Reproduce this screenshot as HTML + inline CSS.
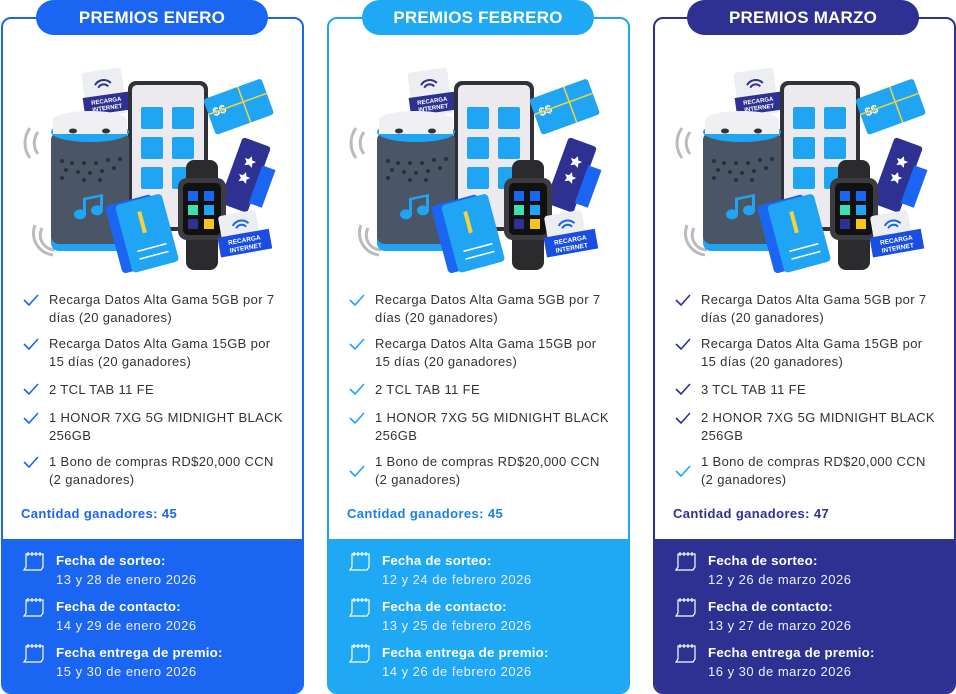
<!DOCTYPE html>
<html><head><meta charset="utf-8">
<style>
*{margin:0;padding:0;box-sizing:border-box}
body{width:956px;height:694px;background:#fff;font-family:"Liberation Sans",sans-serif;position:relative;overflow:hidden}
.card{position:absolute;top:17px;width:303px;height:677px;border:2px solid;border-radius:10px;overflow:hidden;background:#fff}
.pill{position:absolute;top:0;height:35px;width:232px;border-radius:18px;color:#fff;font-weight:bold;font-size:17px;text-align:center;line-height:36px;z-index:2;letter-spacing:.2px}
.ill{position:absolute;left:-3px;top:24px}
.li{position:absolute;left:46px;font-size:13px;letter-spacing:.35px;line-height:18px;color:#333;width:237px}
.ck{position:absolute;left:20px;width:16px;height:12px}
.cant{position:absolute;left:18px;top:487px;font-size:13px;font-weight:bold;letter-spacing:.4px}
.bot{position:absolute;left:0;top:520px;width:100%;height:160px;color:#fff}
.bot .t{position:absolute;left:53px;font-size:13.3px;font-weight:bold;letter-spacing:.2px}
.bot .d{position:absolute;left:53px;font-size:13px;color:#eef;letter-spacing:.5px}
.bot svg{position:absolute;left:20px}
</style></head><body>

<div class="card" style="left:1px;border-color:#1a66f2">
<div class="ill"><svg width="300" height="260" viewBox="0 0 300 260">
<g transform="translate(0,-43)">
<g transform="rotate(-8 104 92)"><rect x="84" y="70" width="40" height="46" rx="3" fill="#eceef2"/><rect x="82" y="95" width="46" height="18" fill="#2e3192"/><text x="105" y="103" font-size="6" fill="#fff" text-anchor="middle" font-weight="bold">RECARGA</text><text x="105" y="110" font-size="6" fill="#fff" text-anchor="middle" font-weight="bold">INTERNET</text><path d="M96 84a10 10 0 0 1 16 0M99 87a6 6 0 0 1 10 0" stroke="#2e3192" stroke-width="2" fill="none"/></g>
<rect x="128" y="81" width="80" height="150" rx="8" fill="#2f3238"/><rect x="132" y="85" width="72" height="142" rx="5" fill="#eceaef"/>
<g fill="#1fa5f3"><rect x="141" y="107" width="22" height="22" rx="2"/><rect x="172" y="107" width="22" height="22" rx="2"/><rect x="141" y="137" width="22" height="22" rx="2"/><rect x="172" y="137" width="22" height="22" rx="2"/><rect x="141" y="167" width="22" height="22" rx="2"/><rect x="172" y="167" width="22" height="22" rx="2"/></g>
<g transform="rotate(-20 238 108)"><rect x="208" y="88" width="62" height="38" rx="3" fill="#1fa5f3"/><text x="213" y="108" font-size="12" fill="#fff" font-weight="bold">$$</text><path d="M245 88v38M208 104h62" stroke="#f5d33b" stroke-width="1.5"/></g>
<g transform="rotate(20 245 175)"><rect x="230" y="140" width="30" height="70" rx="3" fill="#2e3192"/><path d="M245 155l2 4 4 0-3 3 1 4-4-2-4 2 1-4-3-3 4 0z M245 172l2 4 4 0-3 3 1 4-4-2-4 2 1-4-3-3 4 0z" fill="#fff"/><rect x="258" y="160" width="14" height="40" fill="#1a66f2"/></g>
<path d="M30 128a25 25 0 0 0 0 30M38 132a18 18 0 0 0 0 22M35 225a22 22 0 0 0 18 30M42 228a15 15 0 0 0 13 22" stroke="#bbb" stroke-width="3" fill="none"/>
<rect x="51" y="133" width="78" height="118" rx="8" fill="#1fa5f3"/><rect x="51" y="132" width="78" height="112" rx="8" fill="#4a5566"/>
<ellipse cx="90" cy="132" rx="39" ry="10" fill="#1fa5f3"/><rect x="53" y="120" width="74" height="14" fill="#f0f0f3"/><ellipse cx="90" cy="120" rx="37" ry="9" fill="#f0f0f3"/>
<ellipse cx="73" cy="131" rx="4" ry="2.5" fill="#333"/><ellipse cx="106" cy="131" rx="4" ry="2.5" fill="#333"/>
<g fill="#2b2f38"><circle cx="62" cy="161" r="2"/><circle cx="72" cy="163" r="2"/><circle cx="84" cy="163" r="2"/><circle cx="96" cy="163" r="2"/><circle cx="108" cy="160" r="2"/><circle cx="120" cy="159" r="2"/><circle cx="66" cy="170" r="2"/><circle cx="78" cy="172" r="2"/><circle cx="90" cy="173" r="2"/><circle cx="102" cy="171" r="2"/><circle cx="114" cy="168" r="2"/><circle cx="62" cy="178" r="2"/><circle cx="84" cy="180" r="2"/><circle cx="100" cy="180" r="2"/></g>
<path d="M86 198v16a6 5 0 1 1-3-4v-12l20-4v16a6 5 0 1 1-3-4v-9l-14 3" fill="#1fa5f3"/>
<g transform="rotate(-15 140 230)"><rect x="112" y="198" width="48" height="70" rx="4" fill="#1a66f2"/><rect x="122" y="200" width="48" height="70" rx="4" fill="#1fa5f3"/><path d="M132 250h30M132 258h30" stroke="#fff" stroke-width="1.5"/><rect x="142" y="212" width="4" height="22" fill="#f5d33b"/></g>
<rect x="186" y="160" width="32" height="110" rx="8" fill="#2b2b2e"/><rect x="178" y="178" width="48" height="62" rx="9" fill="#3c3c40"/><rect x="183" y="183" width="38" height="52" rx="5" fill="#111"/>
<g><rect x="188" y="191" width="10" height="10" fill="#1a66f2"/><rect x="204" y="191" width="10" height="10" fill="#1a66f2"/><rect x="188" y="205" width="10" height="10" fill="#3ee0b0"/><rect x="204" y="205" width="10" height="10" fill="#1fa5f3"/><rect x="188" y="219" width="10" height="10" fill="#2e3192"/><rect x="204" y="219" width="10" height="10" fill="#f5c518"/></g>
<g transform="rotate(-10 245 238)"><rect x="222" y="212" width="38" height="30" rx="3" fill="#eceef2"/><rect x="218" y="233" width="52" height="20" fill="#1a4ee0"/><text x="244" y="242" font-size="6.5" fill="#fff" text-anchor="middle" font-weight="bold">RECARGA</text><text x="244" y="250" font-size="6.5" fill="#fff" text-anchor="middle" font-weight="bold">INTERNET</text><path d="M235 224a10 10 0 0 1 16 0M238 227a6 6 0 0 1 10 0" stroke="#1a66f2" stroke-width="2" fill="none"/></g>
</g></svg></div>
<svg class="ck" style="top:275px" viewBox="0 0 16 12"><path d="M1 6l5 5 9-10" stroke="#1a66f2" stroke-width="1.6" fill="none"/></svg>
<div class="li" style="top:272px">Recarga Datos Alta Gama 5GB por 7 días (20 ganadores)</div>
<svg class="ck" style="top:319px" viewBox="0 0 16 12"><path d="M1 6l5 5 9-10" stroke="#1a66f2" stroke-width="1.6" fill="none"/></svg>
<div class="li" style="top:316px">Recarga Datos Alta Gama 15GB por 15 días (20 ganadores)</div>
<svg class="ck" style="top:364px" viewBox="0 0 16 12"><path d="M1 6l5 5 9-10" stroke="#1a66f2" stroke-width="1.6" fill="none"/></svg>
<div class="li" style="top:362px">2 TCL TAB 11 FE</div>
<svg class="ck" style="top:393px" viewBox="0 0 16 12"><path d="M1 6l5 5 9-10" stroke="#1a66f2" stroke-width="1.6" fill="none"/></svg>
<div class="li" style="top:390px">1 HONOR 7XG 5G MIDNIGHT BLACK 256GB</div>
<svg class="ck" style="top:437px" viewBox="0 0 16 12"><path d="M1 6l5 5 9-10" stroke="#1a66f2" stroke-width="1.6" fill="none"/></svg>
<div class="li" style="top:434px">1 Bono de compras RD$20,000 CCN (2 ganadores)</div>
<div class="cant" style="color:#1a66f2">Cantidad ganadores: 45</div>
<div class="bot" style="background:#1a66f2">
<svg style="top:12px" width="22" height="20" viewBox="0 0 22 20"><path d="M3 3h17v13l-2 3H1l2-3z M5 1v4M9 1v4M13 1v4M17 1v4" stroke="#fff" stroke-width="1.2" fill="none"/></svg>
<div class="t" style="top:14px">Fecha de sorteo:</div><div class="d" style="top:33px">13 y 28 de enero 2026</div>
<svg style="top:58px" width="22" height="20" viewBox="0 0 22 20"><path d="M3 3h17v13l-2 3H1l2-3z M5 1v4M9 1v4M13 1v4M17 1v4" stroke="#fff" stroke-width="1.2" fill="none"/></svg>
<div class="t" style="top:60px">Fecha de contacto:</div><div class="d" style="top:79px">14 y 29 de enero 2026</div>
<svg style="top:104px" width="22" height="20" viewBox="0 0 22 20"><path d="M3 3h17v13l-2 3H1l2-3z M5 1v4M9 1v4M13 1v4M17 1v4" stroke="#fff" stroke-width="1.2" fill="none"/></svg>
<div class="t" style="top:106px">Fecha entrega de premio:</div><div class="d" style="top:125px">15 y 30 de enero 2026</div>
</div></div>
<div class="pill" style="left:36px;background:#1a66f2">PREMIOS ENERO</div>

<div class="card" style="left:327px;border-color:#1fa5f3">
<div class="ill"><svg width="300" height="260" viewBox="0 0 300 260">
<g transform="translate(0,-43)">
<g transform="rotate(-8 104 92)"><rect x="84" y="70" width="40" height="46" rx="3" fill="#eceef2"/><rect x="82" y="95" width="46" height="18" fill="#2e3192"/><text x="105" y="103" font-size="6" fill="#fff" text-anchor="middle" font-weight="bold">RECARGA</text><text x="105" y="110" font-size="6" fill="#fff" text-anchor="middle" font-weight="bold">INTERNET</text><path d="M96 84a10 10 0 0 1 16 0M99 87a6 6 0 0 1 10 0" stroke="#2e3192" stroke-width="2" fill="none"/></g>
<rect x="128" y="81" width="80" height="150" rx="8" fill="#2f3238"/><rect x="132" y="85" width="72" height="142" rx="5" fill="#eceaef"/>
<g fill="#1fa5f3"><rect x="141" y="107" width="22" height="22" rx="2"/><rect x="172" y="107" width="22" height="22" rx="2"/><rect x="141" y="137" width="22" height="22" rx="2"/><rect x="172" y="137" width="22" height="22" rx="2"/><rect x="141" y="167" width="22" height="22" rx="2"/><rect x="172" y="167" width="22" height="22" rx="2"/></g>
<g transform="rotate(-20 238 108)"><rect x="208" y="88" width="62" height="38" rx="3" fill="#1fa5f3"/><text x="213" y="108" font-size="12" fill="#fff" font-weight="bold">$$</text><path d="M245 88v38M208 104h62" stroke="#f5d33b" stroke-width="1.5"/></g>
<g transform="rotate(20 245 175)"><rect x="230" y="140" width="30" height="70" rx="3" fill="#2e3192"/><path d="M245 155l2 4 4 0-3 3 1 4-4-2-4 2 1-4-3-3 4 0z M245 172l2 4 4 0-3 3 1 4-4-2-4 2 1-4-3-3 4 0z" fill="#fff"/><rect x="258" y="160" width="14" height="40" fill="#1a66f2"/></g>
<path d="M30 128a25 25 0 0 0 0 30M38 132a18 18 0 0 0 0 22M35 225a22 22 0 0 0 18 30M42 228a15 15 0 0 0 13 22" stroke="#bbb" stroke-width="3" fill="none"/>
<rect x="51" y="133" width="78" height="118" rx="8" fill="#1fa5f3"/><rect x="51" y="132" width="78" height="112" rx="8" fill="#4a5566"/>
<ellipse cx="90" cy="132" rx="39" ry="10" fill="#1fa5f3"/><rect x="53" y="120" width="74" height="14" fill="#f0f0f3"/><ellipse cx="90" cy="120" rx="37" ry="9" fill="#f0f0f3"/>
<ellipse cx="73" cy="131" rx="4" ry="2.5" fill="#333"/><ellipse cx="106" cy="131" rx="4" ry="2.5" fill="#333"/>
<g fill="#2b2f38"><circle cx="62" cy="161" r="2"/><circle cx="72" cy="163" r="2"/><circle cx="84" cy="163" r="2"/><circle cx="96" cy="163" r="2"/><circle cx="108" cy="160" r="2"/><circle cx="120" cy="159" r="2"/><circle cx="66" cy="170" r="2"/><circle cx="78" cy="172" r="2"/><circle cx="90" cy="173" r="2"/><circle cx="102" cy="171" r="2"/><circle cx="114" cy="168" r="2"/><circle cx="62" cy="178" r="2"/><circle cx="84" cy="180" r="2"/><circle cx="100" cy="180" r="2"/></g>
<path d="M86 198v16a6 5 0 1 1-3-4v-12l20-4v16a6 5 0 1 1-3-4v-9l-14 3" fill="#1fa5f3"/>
<g transform="rotate(-15 140 230)"><rect x="112" y="198" width="48" height="70" rx="4" fill="#1a66f2"/><rect x="122" y="200" width="48" height="70" rx="4" fill="#1fa5f3"/><path d="M132 250h30M132 258h30" stroke="#fff" stroke-width="1.5"/><rect x="142" y="212" width="4" height="22" fill="#f5d33b"/></g>
<rect x="186" y="160" width="32" height="110" rx="8" fill="#2b2b2e"/><rect x="178" y="178" width="48" height="62" rx="9" fill="#3c3c40"/><rect x="183" y="183" width="38" height="52" rx="5" fill="#111"/>
<g><rect x="188" y="191" width="10" height="10" fill="#1a66f2"/><rect x="204" y="191" width="10" height="10" fill="#1a66f2"/><rect x="188" y="205" width="10" height="10" fill="#3ee0b0"/><rect x="204" y="205" width="10" height="10" fill="#1fa5f3"/><rect x="188" y="219" width="10" height="10" fill="#2e3192"/><rect x="204" y="219" width="10" height="10" fill="#f5c518"/></g>
<g transform="rotate(-10 245 238)"><rect x="222" y="212" width="38" height="30" rx="3" fill="#eceef2"/><rect x="218" y="233" width="52" height="20" fill="#1a4ee0"/><text x="244" y="242" font-size="6.5" fill="#fff" text-anchor="middle" font-weight="bold">RECARGA</text><text x="244" y="250" font-size="6.5" fill="#fff" text-anchor="middle" font-weight="bold">INTERNET</text><path d="M235 224a10 10 0 0 1 16 0M238 227a6 6 0 0 1 10 0" stroke="#1a66f2" stroke-width="2" fill="none"/></g>
</g></svg></div>
<svg class="ck" style="top:275px" viewBox="0 0 16 12"><path d="M1 6l5 5 9-10" stroke="#1fa5f3" stroke-width="1.6" fill="none"/></svg>
<div class="li" style="top:272px">Recarga Datos Alta Gama 5GB por 7 días (20 ganadores)</div>
<svg class="ck" style="top:319px" viewBox="0 0 16 12"><path d="M1 6l5 5 9-10" stroke="#1fa5f3" stroke-width="1.6" fill="none"/></svg>
<div class="li" style="top:316px">Recarga Datos Alta Gama 15GB por 15 días (20 ganadores)</div>
<svg class="ck" style="top:364px" viewBox="0 0 16 12"><path d="M1 6l5 5 9-10" stroke="#1fa5f3" stroke-width="1.6" fill="none"/></svg>
<div class="li" style="top:362px">2 TCL TAB 11 FE</div>
<svg class="ck" style="top:393px" viewBox="0 0 16 12"><path d="M1 6l5 5 9-10" stroke="#1fa5f3" stroke-width="1.6" fill="none"/></svg>
<div class="li" style="top:390px">1 HONOR 7XG 5G MIDNIGHT BLACK 256GB</div>
<svg class="ck" style="top:446px" viewBox="0 0 16 12"><path d="M1 6l5 5 9-10" stroke="#1fa5f3" stroke-width="1.6" fill="none"/></svg>
<div class="li" style="top:434px">1 Bono de compras RD$20,000 CCN (2 ganadores)</div>
<div class="cant" style="color:#1a7fe8">Cantidad ganadores: 45</div>
<div class="bot" style="background:#1fa9f4">
<svg style="top:12px" width="22" height="20" viewBox="0 0 22 20"><path d="M3 3h17v13l-2 3H1l2-3z M5 1v4M9 1v4M13 1v4M17 1v4" stroke="#fff" stroke-width="1.2" fill="none"/></svg>
<div class="t" style="top:14px">Fecha de sorteo:</div><div class="d" style="top:33px">12 y 24 de febrero 2026</div>
<svg style="top:58px" width="22" height="20" viewBox="0 0 22 20"><path d="M3 3h17v13l-2 3H1l2-3z M5 1v4M9 1v4M13 1v4M17 1v4" stroke="#fff" stroke-width="1.2" fill="none"/></svg>
<div class="t" style="top:60px">Fecha de contacto:</div><div class="d" style="top:79px">13 y 25 de febrero 2026</div>
<svg style="top:104px" width="22" height="20" viewBox="0 0 22 20"><path d="M3 3h17v13l-2 3H1l2-3z M5 1v4M9 1v4M13 1v4M17 1v4" stroke="#fff" stroke-width="1.2" fill="none"/></svg>
<div class="t" style="top:106px">Fecha entrega de premio:</div><div class="d" style="top:125px">14 y 26 de febrero 2026</div>
</div></div>
<div class="pill" style="left:362px;background:#1fa9f4">PREMIOS FEBRERO</div>

<div class="card" style="left:653px;border-color:#2e3192">
<div class="ill"><svg width="300" height="260" viewBox="0 0 300 260">
<g transform="translate(0,-43)">
<g transform="rotate(-8 104 92)"><rect x="84" y="70" width="40" height="46" rx="3" fill="#eceef2"/><rect x="82" y="95" width="46" height="18" fill="#2e3192"/><text x="105" y="103" font-size="6" fill="#fff" text-anchor="middle" font-weight="bold">RECARGA</text><text x="105" y="110" font-size="6" fill="#fff" text-anchor="middle" font-weight="bold">INTERNET</text><path d="M96 84a10 10 0 0 1 16 0M99 87a6 6 0 0 1 10 0" stroke="#2e3192" stroke-width="2" fill="none"/></g>
<rect x="128" y="81" width="80" height="150" rx="8" fill="#2f3238"/><rect x="132" y="85" width="72" height="142" rx="5" fill="#eceaef"/>
<g fill="#1fa5f3"><rect x="141" y="107" width="22" height="22" rx="2"/><rect x="172" y="107" width="22" height="22" rx="2"/><rect x="141" y="137" width="22" height="22" rx="2"/><rect x="172" y="137" width="22" height="22" rx="2"/><rect x="141" y="167" width="22" height="22" rx="2"/><rect x="172" y="167" width="22" height="22" rx="2"/></g>
<g transform="rotate(-20 238 108)"><rect x="208" y="88" width="62" height="38" rx="3" fill="#1fa5f3"/><text x="213" y="108" font-size="12" fill="#fff" font-weight="bold">$$</text><path d="M245 88v38M208 104h62" stroke="#f5d33b" stroke-width="1.5"/></g>
<g transform="rotate(20 245 175)"><rect x="230" y="140" width="30" height="70" rx="3" fill="#2e3192"/><path d="M245 155l2 4 4 0-3 3 1 4-4-2-4 2 1-4-3-3 4 0z M245 172l2 4 4 0-3 3 1 4-4-2-4 2 1-4-3-3 4 0z" fill="#fff"/><rect x="258" y="160" width="14" height="40" fill="#1a66f2"/></g>
<path d="M30 128a25 25 0 0 0 0 30M38 132a18 18 0 0 0 0 22M35 225a22 22 0 0 0 18 30M42 228a15 15 0 0 0 13 22" stroke="#bbb" stroke-width="3" fill="none"/>
<rect x="51" y="133" width="78" height="118" rx="8" fill="#1fa5f3"/><rect x="51" y="132" width="78" height="112" rx="8" fill="#4a5566"/>
<ellipse cx="90" cy="132" rx="39" ry="10" fill="#1fa5f3"/><rect x="53" y="120" width="74" height="14" fill="#f0f0f3"/><ellipse cx="90" cy="120" rx="37" ry="9" fill="#f0f0f3"/>
<ellipse cx="73" cy="131" rx="4" ry="2.5" fill="#333"/><ellipse cx="106" cy="131" rx="4" ry="2.5" fill="#333"/>
<g fill="#2b2f38"><circle cx="62" cy="161" r="2"/><circle cx="72" cy="163" r="2"/><circle cx="84" cy="163" r="2"/><circle cx="96" cy="163" r="2"/><circle cx="108" cy="160" r="2"/><circle cx="120" cy="159" r="2"/><circle cx="66" cy="170" r="2"/><circle cx="78" cy="172" r="2"/><circle cx="90" cy="173" r="2"/><circle cx="102" cy="171" r="2"/><circle cx="114" cy="168" r="2"/><circle cx="62" cy="178" r="2"/><circle cx="84" cy="180" r="2"/><circle cx="100" cy="180" r="2"/></g>
<path d="M86 198v16a6 5 0 1 1-3-4v-12l20-4v16a6 5 0 1 1-3-4v-9l-14 3" fill="#1fa5f3"/>
<g transform="rotate(-15 140 230)"><rect x="112" y="198" width="48" height="70" rx="4" fill="#1a66f2"/><rect x="122" y="200" width="48" height="70" rx="4" fill="#1fa5f3"/><path d="M132 250h30M132 258h30" stroke="#fff" stroke-width="1.5"/><rect x="142" y="212" width="4" height="22" fill="#f5d33b"/></g>
<rect x="186" y="160" width="32" height="110" rx="8" fill="#2b2b2e"/><rect x="178" y="178" width="48" height="62" rx="9" fill="#3c3c40"/><rect x="183" y="183" width="38" height="52" rx="5" fill="#111"/>
<g><rect x="188" y="191" width="10" height="10" fill="#1a66f2"/><rect x="204" y="191" width="10" height="10" fill="#1a66f2"/><rect x="188" y="205" width="10" height="10" fill="#3ee0b0"/><rect x="204" y="205" width="10" height="10" fill="#1fa5f3"/><rect x="188" y="219" width="10" height="10" fill="#2e3192"/><rect x="204" y="219" width="10" height="10" fill="#f5c518"/></g>
<g transform="rotate(-10 245 238)"><rect x="222" y="212" width="38" height="30" rx="3" fill="#eceef2"/><rect x="218" y="233" width="52" height="20" fill="#1a4ee0"/><text x="244" y="242" font-size="6.5" fill="#fff" text-anchor="middle" font-weight="bold">RECARGA</text><text x="244" y="250" font-size="6.5" fill="#fff" text-anchor="middle" font-weight="bold">INTERNET</text><path d="M235 224a10 10 0 0 1 16 0M238 227a6 6 0 0 1 10 0" stroke="#1a66f2" stroke-width="2" fill="none"/></g>
</g></svg></div>
<svg class="ck" style="top:275px" viewBox="0 0 16 12"><path d="M1 6l5 5 9-10" stroke="#2e3192" stroke-width="1.6" fill="none"/></svg>
<div class="li" style="top:272px">Recarga Datos Alta Gama 5GB por 7 días (20 ganadores)</div>
<svg class="ck" style="top:319px" viewBox="0 0 16 12"><path d="M1 6l5 5 9-10" stroke="#2e3192" stroke-width="1.6" fill="none"/></svg>
<div class="li" style="top:316px">Recarga Datos Alta Gama 15GB por 15 días (20 ganadores)</div>
<svg class="ck" style="top:364px" viewBox="0 0 16 12"><path d="M1 6l5 5 9-10" stroke="#2e3192" stroke-width="1.6" fill="none"/></svg>
<div class="li" style="top:362px">3 TCL TAB 11 FE</div>
<svg class="ck" style="top:393px" viewBox="0 0 16 12"><path d="M1 6l5 5 9-10" stroke="#2e3192" stroke-width="1.6" fill="none"/></svg>
<div class="li" style="top:390px">2 HONOR 7XG 5G MIDNIGHT BLACK 256GB</div>
<svg class="ck" style="top:446px" viewBox="0 0 16 12"><path d="M1 6l5 5 9-10" stroke="#1fa5f3" stroke-width="1.6" fill="none"/></svg>
<div class="li" style="top:434px">1 Bono de compras RD$20,000 CCN (2 ganadores)</div>
<div class="cant" style="color:#2e3192">Cantidad ganadores: 47</div>
<div class="bot" style="background:#2e3192">
<svg style="top:12px" width="22" height="20" viewBox="0 0 22 20"><path d="M3 3h17v13l-2 3H1l2-3z M5 1v4M9 1v4M13 1v4M17 1v4" stroke="#fff" stroke-width="1.2" fill="none"/></svg>
<div class="t" style="top:14px">Fecha de sorteo:</div><div class="d" style="top:33px">12 y 26 de marzo 2026</div>
<svg style="top:58px" width="22" height="20" viewBox="0 0 22 20"><path d="M3 3h17v13l-2 3H1l2-3z M5 1v4M9 1v4M13 1v4M17 1v4" stroke="#fff" stroke-width="1.2" fill="none"/></svg>
<div class="t" style="top:60px">Fecha de contacto:</div><div class="d" style="top:79px">13 y 27 de marzo 2026</div>
<svg style="top:104px" width="22" height="20" viewBox="0 0 22 20"><path d="M3 3h17v13l-2 3H1l2-3z M5 1v4M9 1v4M13 1v4M17 1v4" stroke="#fff" stroke-width="1.2" fill="none"/></svg>
<div class="t" style="top:106px">Fecha entrega de premio:</div><div class="d" style="top:125px">16 y 30 de marzo 2026</div>
</div></div>
<div class="pill" style="left:687px;background:#2e3192">PREMIOS MARZO</div>

</body></html>
